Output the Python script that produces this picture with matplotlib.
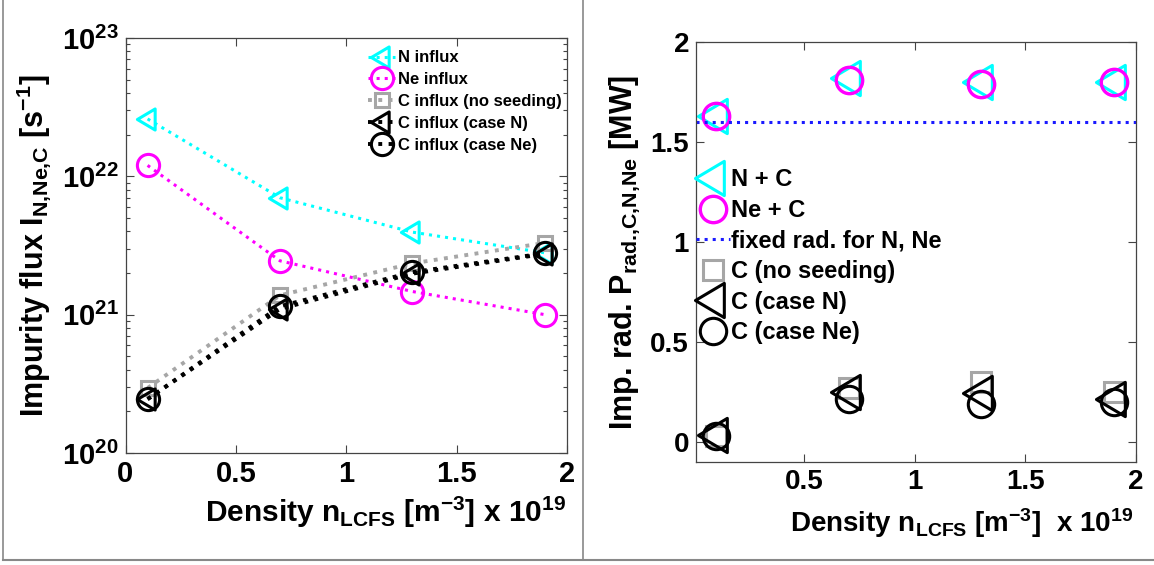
import matplotlib
matplotlib.use('Agg')
import matplotlib.pyplot as plt
from matplotlib.lines import Line2D
from matplotlib.path import Path
from matplotlib.ticker import LogLocator, NullFormatter, FixedLocator

plt.rcParams['font.family'] = ['Liberation Sans', 'DejaVu Sans']
plt.rcParams['font.weight'] = 'bold'
plt.rcParams['mathtext.fontset'] = 'custom'
plt.rcParams['mathtext.bf'] = 'Liberation Sans:bold'
plt.rcParams['mathtext.rm'] = 'Liberation Sans:bold'
plt.rcParams['mathtext.it'] = 'Liberation Sans:bold'
plt.rcParams['mathtext.default'] = 'bf'

# ---------------- data ----------------
density = [0.1, 0.7, 1.3, 1.9]

# left panel: impurity influx [1/s]
n_influx = [2.6e22, 7.0e21, 3.95e21, 2.8e21]
ne_influx = [1.2e22, 2.45e21, 1.47e21, 1.0e21]
c_influx_noseed = [2.95e20, 1.38e21, 2.35e21, 3.3e21]
c_influx_caseN = [2.45e20, 1.1e21, 1.98e21, 2.75e21]
c_influx_caseNe = [2.45e20, 1.15e21, 2.03e21, 2.78e21]
left_labels = ['N influx', 'Ne influx', 'C influx (no seeding)',
               'C influx (case N)', 'C influx (case Ne)']
left_yticks = [1e20, 1e21, 1e22, 1e23]
left_yticklabels = ['10$^{20}$', '10$^{21}$', '10$^{22}$', '10$^{23}$']
left_xticks = [0, 0.5, 1, 1.5, 2]
left_xticklabels = ['0', '0.5', '1', '1.5', '2']

# right panel: impurity radiation [MW]
rad_NC = [1.63, 1.82, 1.80, 1.80]
rad_NeC = [1.63, 1.81, 1.79, 1.80]
fixed_rad = 1.6
rad_C_noseed = [0.03, 0.27, 0.30, 0.25]
rad_C_caseN = [0.035, 0.25, 0.245, 0.215]
rad_C_caseNe = [0.03, 0.215, 0.19, 0.20]
right_labels = ['N + C', 'Ne + C', 'fixed rad. for N, Ne',
                'C (no seeding)', 'C (case N)', 'C (case Ne)']
right_xticks = [0.5, 1, 1.5, 2]
right_xticklabels = ['0.5', '1', '1.5', '2']
right_yticks = [0, 0.5, 1, 1.5, 2]
right_yticklabels = ['0', '0.5', '1', '1.5', '2']

W, H = 1154, 565
fig = plt.figure(figsize=(W / 100, H / 100), dpi=100)
fig.patch.set_facecolor('white')


def px_axes(l, t, r, b):
    return fig.add_axes([l / W, 1 - b / H, (r - l) / W, (b - t) / H])


# MATLAB-like left-pointing triangle (centred nearer its centroid)
TRI = Path([(-1.0, 0.0), (0.6, 0.95), (0.6, -0.95), (-1.0, 0.0)],
           [Path.MOVETO, Path.LINETO, Path.LINETO, Path.CLOSEPOLY])

CYAN = '#00ffff'
MAG = '#ff00ff'
GRAY = '#a6a6a6'
BLUE = '#1a1aff'

# ---------------- left panel ----------------
ax1 = px_axes(125.5, 38, 567, 453)
ax1.plot(density, n_influx, ':', color=CYAN, lw=2.2, marker=TRI, ms=16,
         mfc='none', mec=CYAN, mew=2.2, label=left_labels[0])
ax1.plot(density, ne_influx, ':', color=MAG, lw=2.2, marker='o', ms=16,
         mfc='none', mec=MAG, mew=2.2, label=left_labels[1])
ax1.plot(density, c_influx_noseed, ':', color=GRAY, lw=2.8, marker='s', ms=10,
         mfc='none', mec=GRAY, mew=2.2, label=left_labels[2])
ax1.plot(density, c_influx_caseN, ':', color='black', lw=2.8, marker=TRI,
         ms=16, mfc='none', mec='black', mew=2.2, label=left_labels[3])
ax1.plot(density, c_influx_caseNe, ':', color='black', lw=2.8, marker='o',
         ms=16, mfc='none', mec='black', mew=2.2, label=left_labels[4])
ax1.set_yscale('log')
ax1.set_xlim(0, 2)
ax1.set_ylim(1e20, 1e23)
ax1.yaxis.set_major_locator(FixedLocator(left_yticks))
ax1.set_yticklabels(left_yticklabels)
ax1.yaxis.set_minor_locator(LogLocator(base=10, subs=range(2, 10)))
ax1.yaxis.set_minor_formatter(NullFormatter())
ax1.set_xticks(left_xticks)
ax1.set_xticklabels(left_xticklabels)
ax1.tick_params(which='both', direction='in', top=True, right=True,
                labelsize=21, width=0.8, color='#444444')
ax1.tick_params(which='major', length=6, pad=5)
ax1.tick_params(which='minor', length=3)
ax1.set_ylabel(r'Impurity flux I$_{\text{N,Ne,C}}$ [s$^{-1}$]', fontsize=22,
               fontweight='bold', labelpad=6)
fig.text(205 / W, 1 - 522 / H,
         'Density n$_{LCFS}$ [m$^{-3}$] x 10$^{19}$',
         fontsize=21.5, fontweight='bold', va='baseline', ha='left')
leg1 = ax1.legend(loc='upper right', bbox_to_anchor=(0.989, 0.970),
                  frameon=False, prop={'size': 12, 'weight': 'bold'},
                  handlelength=1.6, handletextpad=0.2, labelspacing=0.41,
                  numpoints=1, borderaxespad=0.0, borderpad=0.0)

# ---------------- right panel ----------------
ax2 = px_axes(696, 42, 1136, 462)
ax2.plot(density, rad_NC, linestyle='none', marker=TRI, ms=26, mfc='none',
         mec=CYAN, mew=2.2, label=right_labels[0])
ax2.plot(density, rad_NeC, linestyle='none', marker='o', ms=19, mfc='none',
         mec=MAG, mew=2.4, label=right_labels[1])
ax2.axhline(fixed_rad, linestyle=':', color=BLUE, lw=2.2,
            label=right_labels[2])
ax2.plot(density, rad_C_noseed, linestyle='none', marker='s', ms=14,
         mfc='none', mec=GRAY, mew=2.2, label=right_labels[3])
ax2.plot(density, rad_C_caseN, linestyle='none', marker=TRI, ms=26,
         mfc='none', mec='black', mew=2.2, label=right_labels[4])
ax2.plot(density, rad_C_caseNe, linestyle='none', marker='o', ms=19,
         mfc='none', mec='black', mew=2.2, label=right_labels[5])
ax2.set_xlim(0.01, 2)
ax2.set_ylim(-0.1, 2)
ax2.set_xticks(right_xticks)
ax2.set_xticklabels(right_xticklabels)
ax2.set_yticks(right_yticks)
ax2.set_yticklabels(right_yticklabels)
ax2.tick_params(which='both', direction='in', top=True, right=True,
                labelsize=20, width=0.8, color='#444444', length=6, pad=5)
ax2.set_ylabel(r'Imp. rad. P$_{\text{rad.,C,N,Ne}}$ [MW]', fontsize=22,
               fontweight='bold', labelpad=6)
fig.text(790 / W, 1 - 532 / H,
         'Density n$_{LCFS}$ [m$^{-3}$]  x 10$^{19}$',
         fontsize=20, fontweight='bold', va='baseline', ha='left')
leg2 = ax2.legend(loc='upper left', bbox_to_anchor=(0.0, 0.699),
                  frameon=False, prop={'size': 17, 'weight': 'bold'},
                  handlelength=1.45, handletextpad=0.05, labelspacing=0.32,
                  numpoints=1, borderaxespad=0.0, borderpad=0.0)

for ax in (ax1, ax2):
    for s in ax.spines.values():
        s.set_color('#444444')
        s.set_linewidth(0.9)

# figure frame lines
fc = '#888888'
fig.add_artist(Line2D([3 / W, 3 / W], [1, 1 - 560 / H], color=fc, lw=1.2,
                      transform=fig.transFigure))
fig.add_artist(Line2D([583 / W, 583 / W], [1, 1 - 560 / H], color=fc, lw=1.2,
                      transform=fig.transFigure))
fig.add_artist(Line2D([3 / W, 1], [1 - 560 / H, 1 - 560 / H], color=fc, lw=1.5,
                      transform=fig.transFigure))

fig.savefig('out.png', dpi=100, facecolor='white')
